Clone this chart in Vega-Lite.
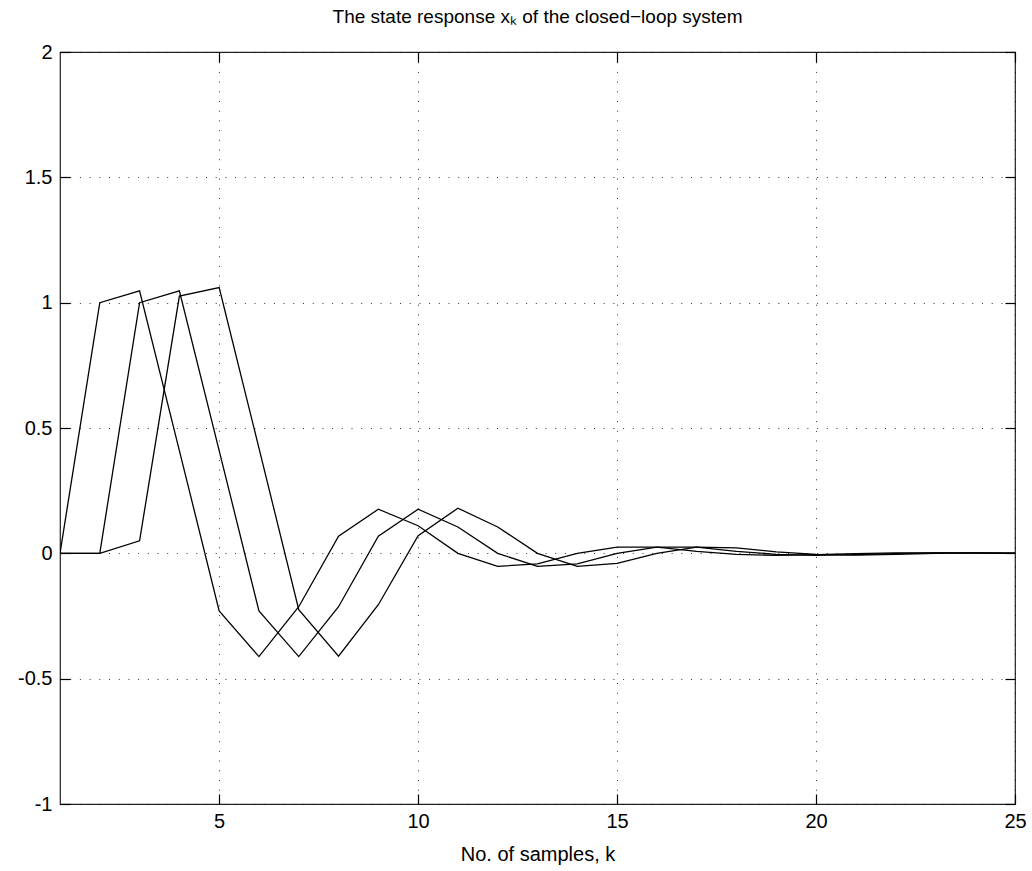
{
  "$schema": "https://vega.github.io/schema/vega-lite/v6.json",
  "width": 955,
  "height": 752,
  "autosize": {"type": "none"},
  "padding": {"left": 60, "top": 52, "right": 17, "bottom": 67},
  "background": "white",
  "title": {
    "text": "The state response xₖ of the closed−loop system",
    "font": "Liberation Sans",
    "fontSize": 19,
    "fontWeight": "normal",
    "color": "black",
    "anchor": "middle",
    "baseline": "alphabetic",
    "offset": 0
  },
  "config": {
    "view": {"stroke": "#222", "strokeWidth": 1.2},
    "axis": {
      "labelFont": "Liberation Sans",
      "labelFontSize": 20,
      "labelColor": "black",
      "titleFont": "Liberation Sans",
      "titleFontSize": 20,
      "titleFontWeight": "normal",
      "titleColor": "black",
      "domain": false,
      "gridColor": "black",
      "gridWidth": 1,
      "gridDash": [1, 8.7],
      "gridOpacity": 0.8,
      "zindex": 1
    }
  },
  "data": {
    "values": [
      {"k": 1, "state": "x1", "v": 0},
      {"k": 2, "state": "x1", "v": 1.0},
      {"k": 3, "state": "x1", "v": 1.047},
      {"k": 4, "state": "x1", "v": 0.41},
      {"k": 5, "state": "x1", "v": -0.23},
      {"k": 6, "state": "x1", "v": -0.412},
      {"k": 7, "state": "x1", "v": -0.213},
      {"k": 8, "state": "x1", "v": 0.068},
      {"k": 9, "state": "x1", "v": 0.176},
      {"k": 10, "state": "x1", "v": 0.11},
      {"k": 11, "state": "x1", "v": 0.0},
      {"k": 12, "state": "x1", "v": -0.052},
      {"k": 13, "state": "x1", "v": -0.042},
      {"k": 14, "state": "x1", "v": 0.0},
      {"k": 15, "state": "x1", "v": 0.025},
      {"k": 16, "state": "x1", "v": 0.025},
      {"k": 17, "state": "x1", "v": 0.008},
      {"k": 18, "state": "x1", "v": -0.004},
      {"k": 19, "state": "x1", "v": -0.008},
      {"k": 20, "state": "x1", "v": -0.005},
      {"k": 21, "state": "x1", "v": -0.001},
      {"k": 22, "state": "x1", "v": 0.002},
      {"k": 23, "state": "x1", "v": 0.002},
      {"k": 24, "state": "x1", "v": 0.001},
      {"k": 25, "state": "x1", "v": 0.0},
      {"k": 1, "state": "x2", "v": 0},
      {"k": 2, "state": "x2", "v": 0},
      {"k": 3, "state": "x2", "v": 1.0},
      {"k": 4, "state": "x2", "v": 1.047},
      {"k": 5, "state": "x2", "v": 0.41},
      {"k": 6, "state": "x2", "v": -0.23},
      {"k": 7, "state": "x2", "v": -0.412},
      {"k": 8, "state": "x2", "v": -0.213},
      {"k": 9, "state": "x2", "v": 0.068},
      {"k": 10, "state": "x2", "v": 0.176},
      {"k": 11, "state": "x2", "v": 0.105},
      {"k": 12, "state": "x2", "v": 0.0},
      {"k": 13, "state": "x2", "v": -0.052},
      {"k": 14, "state": "x2", "v": -0.042},
      {"k": 15, "state": "x2", "v": 0.0},
      {"k": 16, "state": "x2", "v": 0.025},
      {"k": 17, "state": "x2", "v": 0.025},
      {"k": 18, "state": "x2", "v": 0.008},
      {"k": 19, "state": "x2", "v": -0.004},
      {"k": 20, "state": "x2", "v": -0.008},
      {"k": 21, "state": "x2", "v": -0.005},
      {"k": 22, "state": "x2", "v": -0.001},
      {"k": 23, "state": "x2", "v": 0.002},
      {"k": 24, "state": "x2", "v": 0.002},
      {"k": 25, "state": "x2", "v": 0.001},
      {"k": 1, "state": "x3", "v": 0},
      {"k": 2, "state": "x3", "v": 0},
      {"k": 3, "state": "x3", "v": 0.05},
      {"k": 4, "state": "x3", "v": 1.026},
      {"k": 5, "state": "x3", "v": 1.06},
      {"k": 6, "state": "x3", "v": 0.42},
      {"k": 7, "state": "x3", "v": -0.225},
      {"k": 8, "state": "x3", "v": -0.41},
      {"k": 9, "state": "x3", "v": -0.205},
      {"k": 10, "state": "x3", "v": 0.07},
      {"k": 11, "state": "x3", "v": 0.18},
      {"k": 12, "state": "x3", "v": 0.105},
      {"k": 13, "state": "x3", "v": 0.0},
      {"k": 14, "state": "x3", "v": -0.052},
      {"k": 15, "state": "x3", "v": -0.04},
      {"k": 16, "state": "x3", "v": 0.0},
      {"k": 17, "state": "x3", "v": 0.025},
      {"k": 18, "state": "x3", "v": 0.022},
      {"k": 19, "state": "x3", "v": 0.006},
      {"k": 20, "state": "x3", "v": -0.004},
      {"k": 21, "state": "x3", "v": -0.007},
      {"k": 22, "state": "x3", "v": -0.004},
      {"k": 23, "state": "x3", "v": 0.0},
      {"k": 24, "state": "x3", "v": 0.002},
      {"k": 25, "state": "x3", "v": 0.001}
    ]
  },
  "layer": [
    {
      "mark": {"type": "line", "color": "black", "strokeWidth": 1.3, "clip": true},
      "encoding": {
        "x": {
          "field": "k", "type": "quantitative",
          "scale": {"domain": [1, 25], "nice": false, "zero": false},
          "axis": {
            "orient": "bottom",
            "values": [5, 10, 15, 20, 25],
            "grid": true,
            "ticks": true,
            "tickSize": 10,
            "tickColor": "black",
            "tickWidth": 1.2,
            "offset": -10,
            "labelPadding": 23,
            "labelBaseline": "alphabetic",
            "labelFlush": false,
            "title": "No. of samples, k",
            "titleY": 66,
            "titleBaseline": "alphabetic"
          }
        },
        "y": {
          "field": "v", "type": "quantitative",
          "scale": {"domain": [-1, 2], "nice": false, "zero": false},
          "axis": {
            "orient": "left",
            "values": [-1, -0.5, 0, 0.5, 1, 1.5, 2],
            "grid": true,
            "ticks": true,
            "tickSize": 10,
            "tickColor": "black",
            "tickWidth": 1.2,
            "offset": -10,
            "labelPadding": 8,
            "labelFlush": false,
            "labelExpr": "'' + datum.value",
            "title": null
          }
        },
        "detail": {"field": "state"}
      }
    },
    {
      "mark": {"type": "line", "opacity": 0},
      "encoding": {
        "x": {
          "field": "k", "type": "quantitative",
          "scale": {"domain": [1, 25], "nice": false, "zero": false},
          "axis": {"orient": "top", "values": [5, 10, 15, 20, 25], "grid": false, "ticks": true, "tickSize": 10, "tickColor": "black", "tickWidth": 1.2, "offset": -10, "labels": false, "title": null}
        },
        "y": {
          "field": "v", "type": "quantitative",
          "scale": {"domain": [-1, 2], "nice": false, "zero": false},
          "axis": {"orient": "right", "values": [-1, -0.5, 0, 0.5, 1, 1.5, 2], "grid": false, "ticks": true, "tickSize": 10, "tickColor": "black", "tickWidth": 1.2, "offset": -10, "labels": false, "title": null}
        },
        "detail": {"field": "state"}
      }
    }
  ],
  "resolve": {"axis": {"x": "independent", "y": "independent"}}
}
